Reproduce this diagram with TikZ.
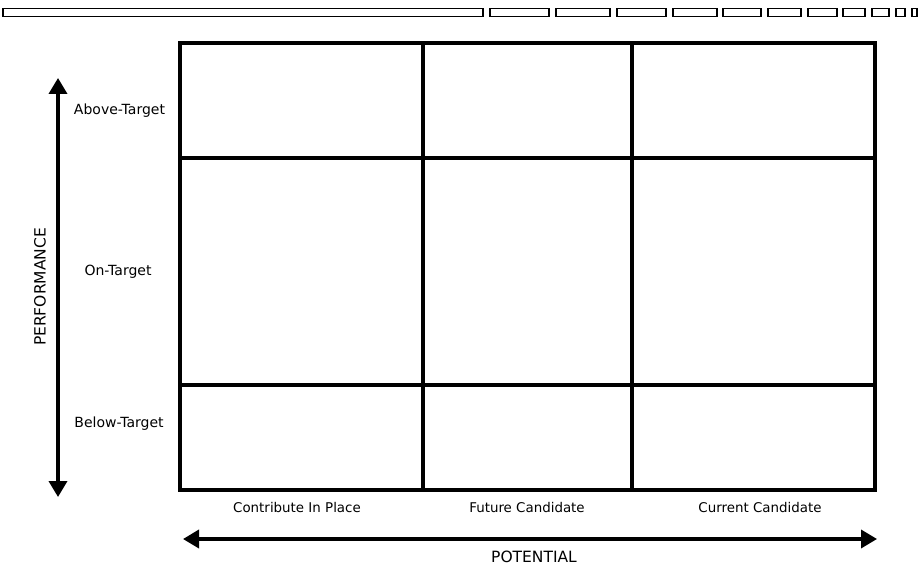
\documentclass[tikz,border=0pt]{standalone}
\usepackage{fontspec}
\setmainfont{DejaVu Sans}
\usetikzlibrary{arrows.meta}
\usetikzlibrary{calc}

\begin{document}
\begin{tikzpicture}[x=1pt,y=-1pt,>={Triangle[length=16pt,width=18pt]}]
		\tikzstyle{gridline}=[line width=3.5pt,line cap=rect];
		\tikzstyle{axis}=[line width=3.5pt,<->];
		\tikzstyle{rowlabel}=[font=\fontsize{14}{16}\selectfont,inner sep=0pt];
		\tikzstyle{collabel}=[font=\fontsize{13.4}{15}\selectfont,inner sep=0pt];
		\tikzstyle{axislabel}=[font=\fontsize{15.5}{17}\selectfont,inner sep=0pt];
		\tikzstyle{tab}=[draw,line width=1.1pt];
		\useasboundingbox(0,0)rectangle(918,569);

		% strip of tabs along the top
		\foreach \a/\b in {3/483,490/549,556/610,617/666,673/717,723/761,
			768/801,808/837,843/865,872/889,896/905,912/917}
			\draw[tab](\a,8.5)rectangle(\b,16.5);

		% the nine boxes
		\coordinate(nw) at (180,43);
		\coordinate(se) at (875,490);
		\draw[gridline](nw)rectangle(se);
		\draw[gridline](423,43)--(423,490) (632,43)--(632,490);
		\draw[gridline](180,158)--(875,158) (180,385)--(875,385);

		% performance side
		\node[rowlabel](r0) at (119.5,111){Above-Target};
		\node[rowlabel](r1) at (118,272){On-Target};
		\node[rowlabel](r2) at (119,424){Below-Target};
		\coordinate(ptop) at (58,78);
		\coordinate(pbot) at (58,497);
		\draw[axis](pbot)--(ptop);
		\node[axislabel,rotate=90](perf) at (40,287){PERFORMANCE};

		% potential side
		\node[collabel](c0) at (297,508){Contribute In Place};
		\node[collabel](c1) at (527,508){Future Candidate};
		\node[collabel](c2) at (760,508){Current Candidate};
		\coordinate(pleft) at (183,539);
		\coordinate(pright) at (877,539);
		\draw[axis](pleft)--(pright);
		\node[axislabel](pot) at (534,557){POTENTIAL};
	\end{tikzpicture}
\end{document}
